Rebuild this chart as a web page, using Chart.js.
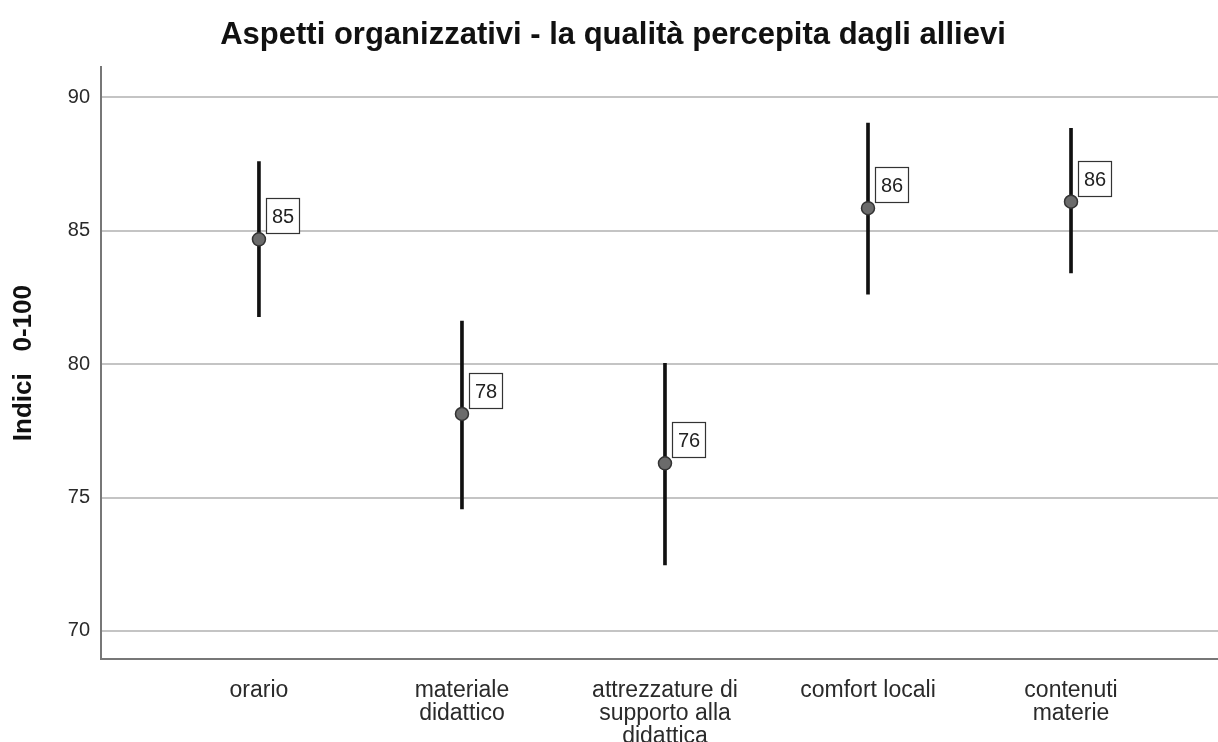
<!DOCTYPE html>
<html>
<head>
<meta charset="utf-8">
<script src="https://cdn.jsdelivr.net/npm/chart.js@4.4.1/dist/chart.umd.min.js"></script>
<style>
  html, body { margin: 0; padding: 0; background: #ffffff; overflow: hidden; width: 1218px; height: 742px; }
  #wrap { width: 1226px; height: 742px; position: relative; }
</style>
</head>
<body>
<div id="wrap"><canvas id="c"></canvas></div>
<script>
// ---- data ----
const categories = [
  ['orario'],
  ['materiale', 'didattico'],
  ['attrezzature di', 'supporto alla', 'didattica'],
  ['comfort locali'],
  ['contenuti', 'materie']
];
const positions = [1, 2, 3, 4, 5];
const means = [84.67, 78.13, 76.28, 85.84, 86.08];
const lowerCI = [81.77, 74.57, 72.47, 82.62, 83.41];
const upperCI = [87.58, 81.61, 80.03, 89.03, 88.83];
const valueLabels = ['85', '78', '76', '86', '86'];
const yTicks = [70, 75, 80, 85, 90];

const FONT = "'Liberation Sans', Arial, sans-serif";

const labelBoxes = {
  id: 'labelBoxes',
  afterDatasetsDraw(chart) {
    const meta = chart.getDatasetMeta(1);
    const ctx = chart.ctx;
    ctx.save();
    meta.data.forEach((pt, i) => {
      const bx = Math.round(pt.x + 7) + 0.5;
      const by = Math.round(pt.y - 41) + 0.5;
      const bw = 33, bh = 35;
      ctx.fillStyle = '#ffffff';
      ctx.fillRect(bx, by, bw, bh);
      ctx.strokeStyle = '#333333';
      ctx.lineWidth = 1.2;
      ctx.strokeRect(bx, by, bw, bh);
      ctx.fillStyle = '#222222';
      ctx.font = '20px ' + FONT;
      ctx.textAlign = 'center';
      ctx.textBaseline = 'middle';
      ctx.fillText(valueLabels[i], bx + bw / 2, by + bh / 2 + 1);
    });
    ctx.restore();
  }
};

new Chart(document.getElementById('c'), {
  type: 'bar',
  data: {
    datasets: [
      {
        type: 'bar',
        data: positions.map((p, i) => ({ x: p, y: [lowerCI[i], upperCI[i]] })),
        backgroundColor: '#111111',
        borderWidth: 0,
        barThickness: 3,
        order: 2
      },
      {
        type: 'scatter',
        data: positions.map((p, i) => ({ x: p, y: means[i] })),
        pointRadius: 6.5,
        pointBackgroundColor: '#6b6b6b',
        pointBorderColor: '#333333',
        pointBorderWidth: 1.5,
        order: 1
      }
    ]
  },
  options: {
    responsive: true,
    maintainAspectRatio: false,
    devicePixelRatio: 1,
    animation: false,
    layout: { padding: { left: 0, right: 0, top: 0, bottom: 0 } },
    plugins: {
      legend: { display: false },
      tooltip: { enabled: false },
      title: {
        display: true,
        text: 'Aspetti organizzativi - la qualità percepita dagli allievi',
        color: '#111111',
        font: { family: FONT, size: 31, weight: 'bold' },
        padding: { top: 17, bottom: 13 }
      }
    },
    scales: {
      x: {
        type: 'linear',
        offset: false,
        min: 0.222,
        max: 5.724,
        afterBuildTicks(scale) { scale.ticks = positions.map(v => ({ value: v })); },
        afterFit(scale) { scale.height = 83; },
        grid: { display: false, drawTicks: false, offset: false },
        border: { display: true, color: '#777777', width: 2 },
        ticks: {
          padding: 20,
          color: '#2a2a2a',
          font: { family: FONT, size: 23, lineHeight: 1.0 },
          maxRotation: 0,
          autoSkip: false,
          callback: (v) => categories[positions.indexOf(v)] || ''
        }
      },
      y: {
        type: 'linear',
        min: 68.95,
        max: 91.12,
        afterBuildTicks(scale) { scale.ticks = yTicks.map(v => ({ value: v })); },
        afterFit(scale) { scale.width = 101; },
        grid: { color: '#c4c4c4', lineWidth: 2, drawTicks: false },
        border: { display: true, color: '#777777', width: 2 },
        ticks: {
          padding: 11,
          color: '#2a2a2a',
          font: { family: FONT, size: 20 }
        },
        title: {
          display: true,
          text: 'Indici   0-100',
          color: '#111111',
          font: { family: FONT, size: 26, weight: 'bold' },
          padding: { top: 8, bottom: 0 }
        }
      }
    }
  },
  plugins: [labelBoxes]
});
</script>
</body>
</html>
